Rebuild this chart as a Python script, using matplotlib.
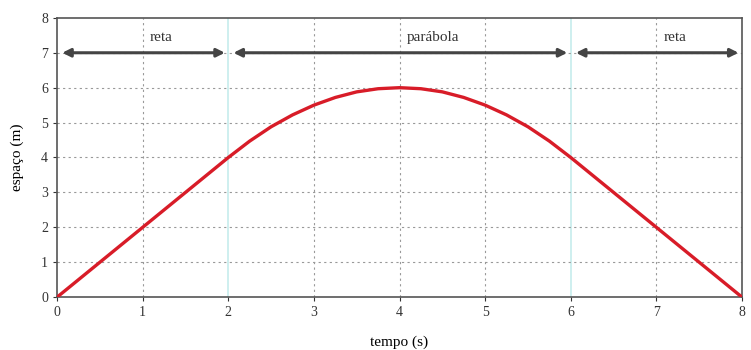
import matplotlib.pyplot as plt

plt.rcParams['font.family'] = ['Liberation Serif', 'DejaVu Serif']

# curve
tempo = [0, 0.5, 1, 1.5, 2, 2.25, 2.5, 2.75, 3, 3.25, 3.5, 3.75, 4,
         4.25, 4.5, 4.75, 5, 5.25, 5.5, 5.75, 6, 6.5, 7, 7.5, 8]
espaco = [0, 1, 2, 3, 4, 4.47, 4.88, 5.22, 5.5, 5.72, 5.88, 5.97, 6,
          5.97, 5.88, 5.72, 5.5, 5.22, 4.88, 4.47, 4, 3, 2, 1, 0]

trechos = [(0, 2), (2, 6), (6, 8)]
nomes = ['reta', 'parábola', 'reta']
limites = [2, 6]

fig = plt.figure(figsize=(7.51, 3.5), dpi=100)
ax = fig.add_axes([0.076, 0.151, 0.912, 0.798])

ax.set_xlim(0, 8)
ax.set_ylim(0, 8)
ax.set_xticks(range(9))
ax.set_yticks(range(9))

# dotted grid, but the segment limits get their own pale line
for xv in range(1, 8):
    if xv in limites:
        ax.axvline(xv, color='#c6ecec', linewidth=1.2, zorder=1)
    else:
        ax.axvline(xv, color='#999999', linestyle=(0, (2, 3)), linewidth=0.8, zorder=1)
for yv in range(1, 8):
    ax.axhline(yv, color='#999999', linestyle=(0, (2, 3)), linewidth=0.8, zorder=1)

ax.plot(tempo, espaco, color='#d81c28', linewidth=2.4, zorder=3)

for (a, b), nome in zip(trechos, nomes):
    ax.annotate('', xy=(b - 0.04, 7), xytext=(a + 0.06, 7),
                arrowprops=dict(arrowstyle='<|-|>', color='#444444', lw=2.2,
                                mutation_scale=12, shrinkA=0, shrinkB=0))
    ax.text((a + b) / 2 + 0.08 if nome != 'reta' else a + 1.08, 7.45, nome,
            fontsize=11, ha='left', va='center', color='#333333')

ax.tick_params(labelsize=10, length=3, colors='#333333')
for s in ax.spines.values():
    s.set_color('#555555')
    s.set_linewidth(1.2)

ax.set_xlabel('tempo (s)', fontsize=11, labelpad=12)
ax.set_ylabel('espaço (m)', fontsize=11, labelpad=12)

fig.savefig('out.png', dpi=100)
